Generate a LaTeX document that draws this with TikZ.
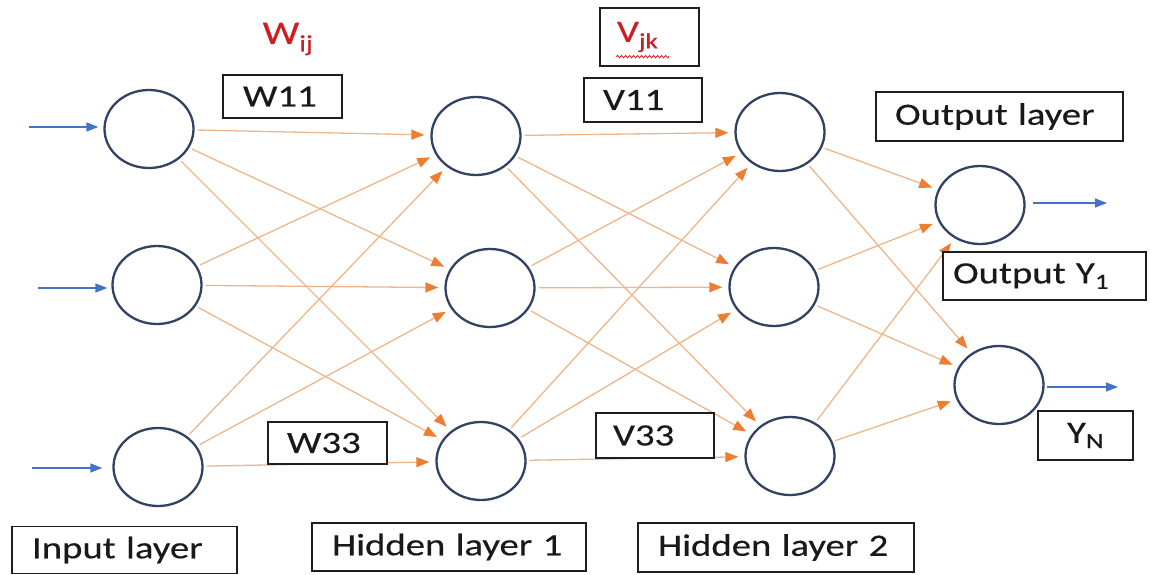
\documentclass[tikz,border=0pt]{standalone}
\usepackage{fontspec}
\setmainfont{Carlito}[FakeStretch=1.25,FakeBold=0.35]
\usetikzlibrary{arrows.meta,shapes.geometric,decorations.pathmorphing}
\definecolor{circ}{RGB}{50,66,98}
\definecolor{lineor}{RGB}{238,182,138}
\definecolor{heador}{RGB}{237,125,49}
\definecolor{inblue}{RGB}{68,114,196}
\definecolor{wred}{RGB}{205,30,35}
\definecolor{boxline}{RGB}{30,30,30}
\begin{document}
\begin{tikzpicture}[x=1pt,y=-1pt,
  neuron/.style={ellipse,draw=circ,line width=2.3pt,minimum width=89pt,minimum height=78pt,inner sep=0pt,fill=white},
  conn/.style={draw=lineor,line width=1.3pt,-{Triangle[length=13pt,width=10pt,color=heador]},shorten >=6pt,shorten <=3pt},
  ioarrow/.style={draw=inblue,line width=1.4pt,-{Triangle[length=12pt,width=9pt]}},
  lbl/.style={draw=boxline,line width=1.3pt,fill=white,font=\fontsize{31}{37}\selectfont,text=black!90,align=left,inner ysep=0pt}
]
\useasboundingbox (0,0) rectangle (1150,575);

% neurons
\node[neuron] (I1) at (149,129) {};
\node[neuron] (I2) at (157,285) {};
\node[neuron] (I3) at (158,467) {};
\node[neuron] (H1) at (476,136) {};
\node[neuron] (H2) at (490,288) {};
\node[neuron] (H3) at (481,461) {};
\node[neuron] (G1) at (780,132) {};
\node[neuron] (G2) at (774,287) {};
\node[neuron] (G3) at (790,456) {};
\node[neuron] (O1) at (980,205) {};
\node[neuron] (O2) at (999,385) {};

% weighted connections
\foreach \s in {I1,I2,I3}{\foreach \t in {H1,H2,H3}{\draw[conn] (\s) -- (\t);}}
\foreach \s in {H1,H2,H3}{\foreach \t in {G1,G2,G3}{\draw[conn] (\s) -- (\t);}}
\foreach \s in {G1,G2,G3}{\foreach \t in {O1,O2}{\draw[conn] (\s) -- (\t);}}

% input and output arrows
\coordinate (a1) at (29,127);
\coordinate (a2) at (38,288);
\coordinate (a3) at (32,468);
\draw[ioarrow,shorten >=5pt] (a1) -- (a1 -| I1.west);
\draw[ioarrow,shorten >=4pt] (a2) -- (a2 -| I2.west);
\draw[ioarrow,shorten >=10pt] (a3) -- (a3 -| I3.west);
\coordinate (b1) at (1107,203);
\coordinate (b2) at (1118,387);
\draw[ioarrow,shorten <=7pt] (b1 -| O1.east) -- (b1);
\draw[ioarrow,shorten <=2pt] (b2 -| O2.east) -- (b2);

% weight labels
\node[text=wred,font=\fontsize{33}{37}\selectfont] (wij) at (288,39) {W\textsubscript{ij}};
\node[lbl,text=wred,inner xsep=17pt,text width=65pt,minimum height=58pt] (vjk) at (649.5,37) {V\textsubscript{jk}};
\draw[wred,line width=0.8pt,decorate,decoration={snake,amplitude=1.2pt,segment length=4pt}]
  ([xshift=17pt,yshift=10pt]vjk.south west) -- ([xshift=70pt,yshift=10pt]vjk.south west);
\node[lbl,inner xsep=20pt,text width=79pt,minimum height=43pt] (w11) at (282.5,96.5) {W11};
\node[lbl,inner xsep=19pt,text width=80pt,minimum height=44pt] (v11) at (643,100) {V11};
\node[lbl,inner xsep=19pt,text width=81pt,minimum height=42pt] (w33) at (327.5,443) {W33};
\node[lbl,inner xsep=17pt,text width=84pt,minimum height=45pt] (v33) at (655,435.5) {V33};

% layer labels
\node[lbl,inner xsep=19pt,text width=209pt,minimum height=49pt] (outl) at (999.5,116.5) {Output layer};
\node[lbl,inner xsep=10pt,text width=183pt,minimum height=48pt] (outy1) at (1044.5,276) {Output Y\textsubscript{1}};
\node[lbl,align=center,inner xsep=25pt,text width=45pt,minimum height=49pt] (outyn) at (1085.5,435.5) {Y\textsubscript{N}};
\node[lbl,inner xsep=20pt,text width=185pt,minimum height=47pt] (inl) at (124.5,550) {Input layer};
\node[lbl,inner xsep=20pt,text width=234pt,minimum height=48pt] (h1l) at (449,547) {Hidden layer 1};
\node[lbl,inner xsep=20pt,text width=236pt,minimum height=49pt] (h2l) at (776,547.5) {Hidden layer 2};
\end{tikzpicture}
\end{document}
